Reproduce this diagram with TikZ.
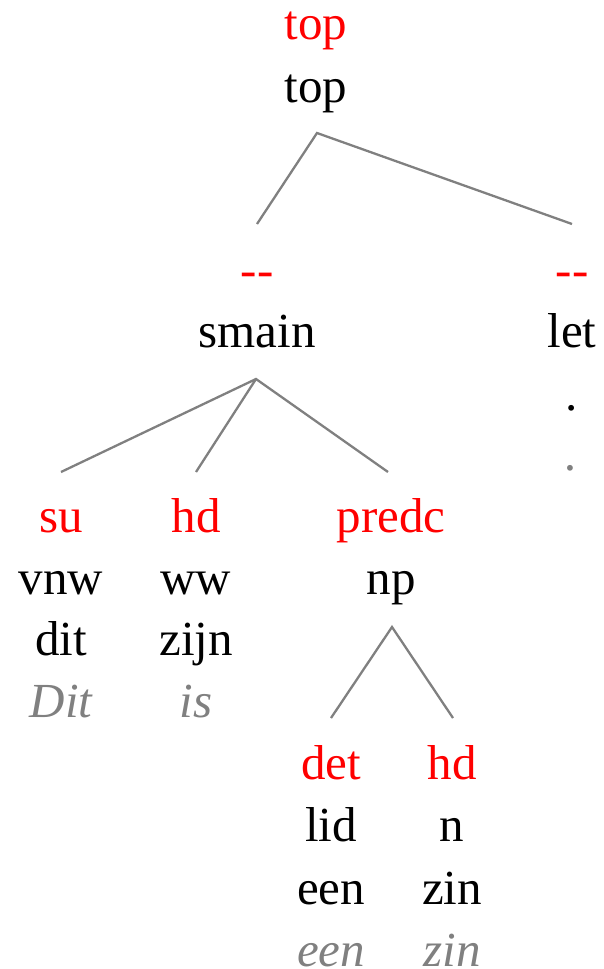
\documentclass[tikz,border=0pt]{standalone}
\usepackage{fontspec}
\setmainfont{Liberation Serif}
\definecolor{fn}{RGB}{255,0,0}
\definecolor{wd}{RGB}{128,128,128}
\definecolor{ln}{RGB}{128,128,128}
\begin{document}
\begin{tikzpicture}[x=1pt,y=-1pt,
  lbl/.style={anchor=base,inner sep=0pt,font=\fontsize{49}{58}\selectfont},
  func/.style={lbl,text=fn},
  cat/.style={lbl,text=black},
  word/.style={lbl,text=black},
  surf/.style={lbl,text=wd,font=\fontsize{49}{58}\selectfont\itshape},
  edge/.style={draw=ln,line width=2.3pt}]
\useasboundingbox (0,0) rectangle (604,969);
% root
\node[func] (rf) at (316,39) {top};
\node[cat] (rc) at (316,102) {top};
% level 1
\node[func] (sf) at (257,286) {-{}-};
\node[cat] (sc) at (257,347) {smain};
\node[func] (lf) at (572,286) {-{}-};
\node[cat] (lc) at (572,347) {let};
\node[word] (lw) at (572,410) {.};
\node[surf] (ls) at (572,470) {.};
% level 2
\node[func] (suf) at (61,532) {su};
\node[cat] (suc) at (61,594) {vnw};
\node[word] (suw) at (61,655) {dit};
\node[surf] (sus) at (61,717) {Dit};
\node[func] (hdf) at (196,532) {hd};
\node[cat] (hdc) at (196,594) {ww};
\node[word] (hdw) at (196,655) {zijn};
\node[surf] (hds) at (196,717) {is};
\node[func] (pf) at (391,532) {predc};
\node[cat] (pc) at (391,594) {np};
% level 3
\node[func] (df) at (331,779) {det};
\node[cat] (dc) at (331,841) {lid};
\node[word] (dw) at (331,904) {een};
\node[surf] (ds) at (331,966) {een};
\node[func] (nf) at (452,779) {hd};
\node[cat] (nc) at (452,841) {n};
\node[word] (nw) at (452,904) {zin};
\node[surf] (ns) at (452,966) {zin};
% connector ends
\coordinate (rA) at (317,133);
\coordinate (sT) at (257,224);
\coordinate (lT) at (572,224);
\coordinate (sA) at (256,379);
\coordinate (suT) at (61,472);
\coordinate (hdT) at (196,472);
\coordinate (pT) at (388,472);
\coordinate (pA) at (392,627);
\coordinate (dT) at (331,718);
\coordinate (nT) at (453,718);
\draw[edge] (sT) -- (rA) -- (lT);
\draw[edge] (suT) -- (sA) -- (pT);
\draw[edge] (sA) -- (hdT);
\draw[edge] (dT) -- (pA) -- (nT);
\end{tikzpicture}
\end{document}
